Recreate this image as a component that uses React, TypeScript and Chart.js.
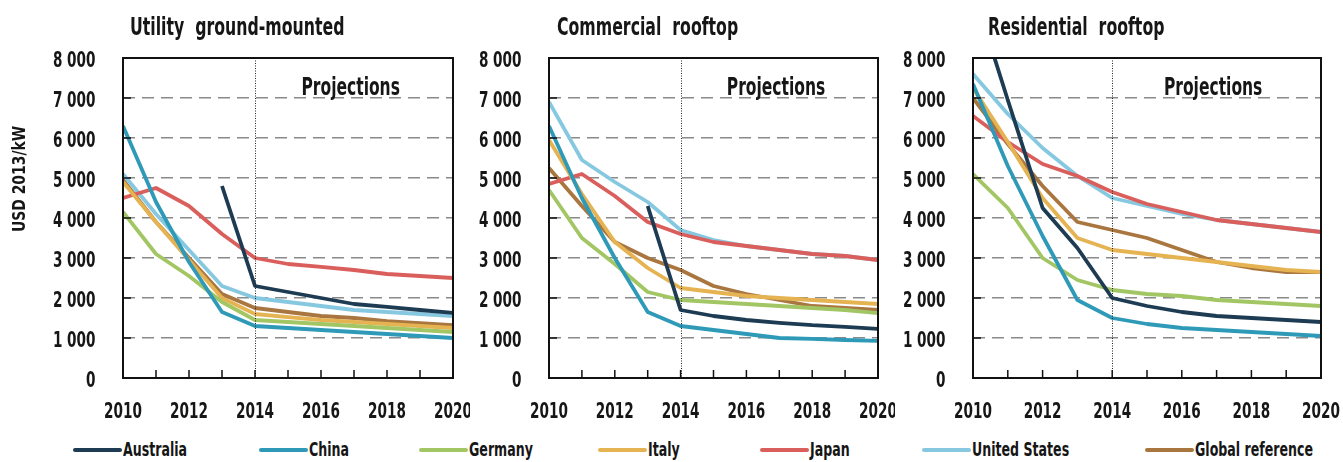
import React, { useEffect, useRef } from 'react';
import { Chart, registerables } from 'chart.js';

Chart.register(...registerables);

const FONT = '"DejaVu Sans Condensed", "Liberation Sans Narrow", "DejaVu Sans", sans-serif';

const years = [2010, 2011, 2012, 2013, 2014, 2015, 2016, 2017, 2018, 2019, 2020];
const projectionStartYear = 2014;

const seriesNames = ['Australia', 'China', 'Germany', 'Italy', 'Japan', 'United States', 'Global reference'];
const seriesColors = ['#1d3c53', '#2e9ab8', '#a3c664', '#e6b352', '#da5f5c', '#87c8e1', '#a9763f'];

// Utility ground-mounted (USD 2013/kW)
const utilAustralia = [null, null, null, 4800, 2300, 2150, 2000, 1850, 1780, 1700, 1630];
const utilChina = [6300, 4400, 2900, 1650, 1300, 1250, 1200, 1150, 1100, 1050, 1000];
const utilGermany = [4150, 3100, 2550, 1900, 1450, 1400, 1350, 1300, 1250, 1200, 1150];
const utilItaly = [4900, 3900, 2950, 2000, 1600, 1520, 1450, 1400, 1350, 1300, 1250];
const utilJapan = [4500, 4750, 4300, 3600, 3000, 2850, 2780, 2700, 2600, 2550, 2500];
const utilUS = [5100, 4100, 3200, 2300, 2000, 1900, 1800, 1700, 1650, 1600, 1550];
const utilGlobal = [4950, 3900, 3000, 2100, 1750, 1650, 1550, 1500, 1420, 1370, 1320];

// Commercial rooftop
const comAustralia = [null, null, null, 4300, 1700, 1550, 1450, 1380, 1320, 1280, 1230];
const comChina = [6300, 4500, 3000, 1650, 1300, 1200, 1100, 1000, 980, 950, 930];
const comGermany = [4700, 3500, 2850, 2150, 1950, 1900, 1850, 1800, 1750, 1700, 1620];
const comItaly = [5950, 4600, 3400, 2750, 2250, 2150, 2050, 2000, 1950, 1900, 1850];
const comJapan = [4850, 5100, 4550, 3900, 3600, 3400, 3300, 3200, 3100, 3050, 2950];
const comUS = [6900, 5450, 4900, 4400, 3700, 3450, 3300, 3200, 3100, 3050, 2950];
const comGlobal = [5250, 4300, 3400, 3000, 2700, 2300, 2100, 1950, 1800, 1750, 1700];

// Residential rooftop
const resAustralia = [9700, 6950, 4250, 3250, 2000, 1800, 1650, 1550, 1500, 1450, 1400];
const resChina = [7350, 5300, 3550, 1950, 1500, 1350, 1250, 1200, 1150, 1100, 1050];
const resGermany = [5100, 4250, 3000, 2450, 2200, 2100, 2050, 1950, 1900, 1850, 1800];
const resItaly = [7250, 5900, 4500, 3500, 3200, 3100, 3000, 2900, 2800, 2700, 2650];
const resJapan = [6550, 5900, 5350, 5050, 4650, 4350, 4150, 3950, 3850, 3750, 3650];
const resUS = [7600, 6600, 5750, 5050, 4500, 4300, 4100, 3950, 3850, 3750, 3650];
const resGlobal = [7000, 5850, 4800, 3900, 3700, 3500, 3200, 2900, 2750, 2650, 2650];

const panelTitles = ['Utility  ground-mounted', 'Commercial  rooftop', 'Residential  rooftop'];
const projectionsLabel = 'Projections';
const yAxisLabel = 'USD 2013/kW';

// legend layout (left x of each swatch)
const legendX = [73, 259, 419, 598, 760, 922, 1145];

type Series = (number | null)[];

type PanelProps = {
  title: string;
  series: Series[];
  left: number;
  width: number;
  yWidth: number;
  rightPad: number;
  titleOffset: number;
  showYTitle: boolean;
};

const CANVAS_H = 430;
const TEXT_COLOR = '#161616';

function drawText(
  ctx: CanvasRenderingContext2D,
  text: string,
  x: number,
  y: number,
  size: number,
  align: CanvasTextAlign,
  scaleX: number,
  baseline: CanvasTextBaseline = 'alphabetic'
) {
  ctx.save();
  ctx.font = `bold ${size}px ${FONT}`;
  ctx.fillStyle = TEXT_COLOR;
  ctx.textAlign = align;
  ctx.textBaseline = baseline;
  ctx.translate(x, y);
  ctx.scale(scaleX, 1);
  ctx.fillText(text, 0, 0);
  ctx.restore();
}

const fmtY = (v: number) => (v === 0 ? '0' : `${Math.round(v / 1000)} 000`);

function Panel(p: PanelProps) {
  const ref = useRef<HTMLCanvasElement>(null);
  useEffect(() => {
    const canvas = ref.current;
    if (!canvas) return;
    const overlay = {
      id: 'overlay',
      afterDatasetsDraw(chart: any) {
        const { ctx, chartArea: a, scales } = chart;
        const x = scales.x;
        const y = scales.y;
        ctx.save();
        // projection divider
        const px = Math.round(x.getPixelForValue(projectionStartYear)) + 0.5;
        ctx.strokeStyle = '#222';
        ctx.lineWidth = 1;
        ctx.setLineDash([1, 1.5]);
        ctx.beginPath();
        ctx.moveTo(px, a.top);
        ctx.lineTo(px, a.bottom);
        ctx.stroke();
        ctx.setLineDash([]);
        // inward ticks
        ctx.strokeStyle = '#111';
        ctx.lineWidth = 1.5;
        ctx.beginPath();
        years.forEach((yr) => {
          const tx = x.getPixelForValue(yr);
          ctx.moveTo(tx, a.bottom);
          ctx.lineTo(tx, a.bottom - 8);
        });
        y.ticks.forEach((t: any) => {
          const ty = y.getPixelForValue(t.value);
          ctx.moveTo(a.left, ty);
          ctx.lineTo(a.left + 8, ty);
        });
        ctx.stroke();
        // frame
        ctx.lineWidth = 2;
        ctx.strokeRect(a.left, a.top, a.right - a.left, a.bottom - a.top);
        ctx.restore();

        // tick labels
        y.ticks.forEach((t: any) => {
          drawText(ctx, fmtY(t.value), a.left - 27.5, y.getPixelForValue(t.value) + 8.5, 21, 'right', 0.72);
        });
        x.ticks.forEach((t: any) => {
          drawText(ctx, String(t.value), x.getPixelForValue(t.value), a.bottom + 39.5, 21, 'center', 0.72);
        });
        // projections label
        drawText(ctx, projectionsLabel, x.getPixelForValue(2016.9), y.getPixelForValue(7080), 25, 'center', 0.69);
        // panel title
        drawText(ctx, p.title, a.left + p.titleOffset, 35, 25, 'left', 0.7);
        // y axis title
        if (p.showYTitle) {
          ctx.save();
          ctx.translate(20, 179);
          ctx.rotate(-Math.PI / 2);
          drawText(ctx, yAxisLabel, 0, 0, 18, 'center', 0.86, 'middle');
          ctx.restore();
        }
      },
    };
    const chart = new Chart(canvas, {
      type: 'line',
      data: {
        datasets: seriesNames.map((name, i) => ({
          label: name,
          data: years.map((yr, j) => ({ x: yr, y: p.series[i][j] })),
          borderColor: seriesColors[i],
          backgroundColor: seriesColors[i],
          borderWidth: 3.8,
          pointRadius: 0,
          pointHoverRadius: 0,
          tension: 0,
          fill: false,
          spanGaps: false,
          borderJoinStyle: 'round',
          borderCapStyle: 'butt',
        })),
      },
      options: {
        animation: false,
        responsive: false,
        maintainAspectRatio: false,
        events: [],
        layout: { padding: { top: 58, right: p.rightPad, left: 0, bottom: 0 } },
        plugins: {
          legend: { display: false },
          tooltip: { enabled: false },
          title: { display: false },
        },
        scales: {
          x: {
            type: 'linear',
            min: 2010,
            max: 2020,
            grid: { display: false, drawTicks: false },
            border: { display: false },
            ticks: { stepSize: 2, display: false, autoSkip: false },
            afterFit: (s: any) => {
              s.height = 52;
            },
          },
          y: {
            min: 0,
            max: 8000,
            grid: {
              drawTicks: false,
              lineWidth: 1.5,
              color: (c: any) =>
                c.tick && (c.tick.value === 0 || c.tick.value === 8000) ? 'rgba(0,0,0,0)' : '#8a8a8a',
            },
            border: { display: false, dash: [12, 7] },
            ticks: { stepSize: 1000, display: false },
            afterFit: (s: any) => {
              s.width = p.yWidth;
            },
          },
        },
      },
      plugins: [overlay],
    } as any);
    return () => chart.destroy();
  }, []);
  return (
    <canvas
      ref={ref}
      width={p.width}
      height={CANVAS_H}
      style={{ position: 'absolute', left: p.left, top: 0, width: p.width, height: CANVAS_H }}
    />
  );
}

function Legend() {
  return (
    <>
      {seriesNames.map((n, i) => (
        <React.Fragment key={n}>
          <div
            style={{
              position: 'absolute',
              left: legendX[i],
              top: 448,
              width: 49,
              height: 4,
              background: seriesColors[i],
              borderRadius: 2,
            }}
          />
          <span
            style={{
              position: 'absolute',
              left: legendX[i] + 50,
              top: 439,
              fontFamily: FONT,
              fontWeight: 'bold',
              fontSize: 20,
              lineHeight: '20px',
              color: TEXT_COLOR,
              whiteSpace: 'nowrap',
              transform: 'scaleX(0.7)',
              transformOrigin: 'left center',
            }}
          >
            {n}
          </span>
        </React.Fragment>
      ))}
    </>
  );
}

export default function App() {
  return (
    <div style={{ position: 'absolute', left: 0, top: 0, width: 1343, height: 462, background: '#fff', overflow: 'hidden' }}>
      <Panel
        title={panelTitles[0]}
        series={[utilAustralia, utilChina, utilGermany, utilItaly, utilJapan, utilUS, utilGlobal]}
        left={0}
        width={470}
        yWidth={123}
        rightPad={17}
        titleOffset={7}
        showYTitle={true}
      />
      <Panel
        title={panelTitles[1]}
        series={[comAustralia, comChina, comGermany, comItaly, comJapan, comUS, comGlobal]}
        left={470}
        width={425}
        yWidth={79}
        rightPad={17}
        titleOffset={8}
        showYTitle={false}
      />
      <Panel
        title={panelTitles[2]}
        series={[resAustralia, resChina, resGermany, resItaly, resJapan, resUS, resGlobal]}
        left={895}
        width={448}
        yWidth={78}
        rightPad={22}
        titleOffset={15}
        showYTitle={false}
      />
      <Legend />
    </div>
  );
}
